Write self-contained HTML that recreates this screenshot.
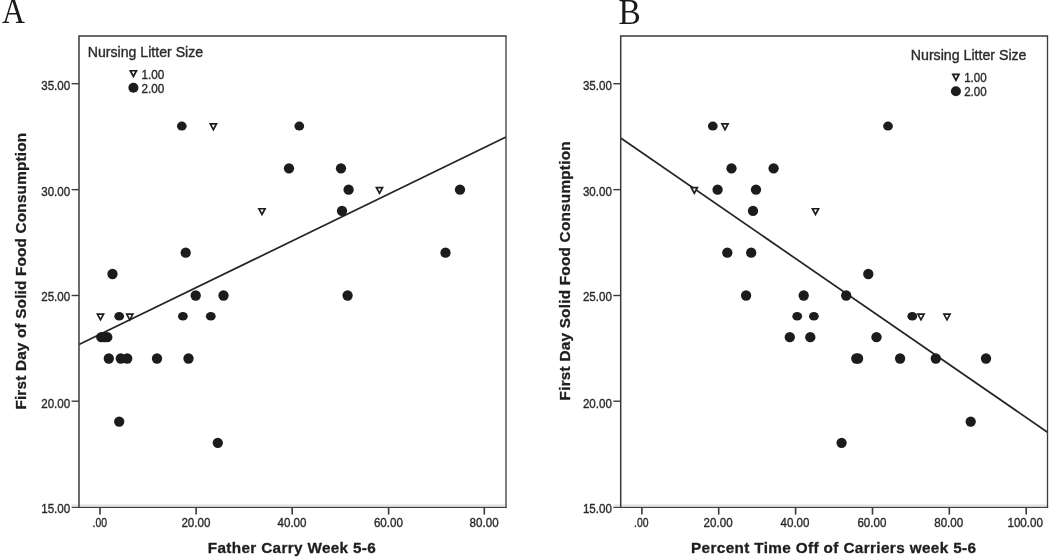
<!DOCTYPE html>
<html><head><meta charset="utf-8"><title>Figure</title>
<style>html,body{margin:0;padding:0;background:#fff;}body{width:1050px;height:558px;overflow:hidden;}svg{display:block;opacity:0.999;will-change:transform;}text{font-family:"Liberation Sans",sans-serif;}.r{stroke:#2a2a2a;stroke-width:0.35px;}.b{stroke:#1e1e1e;stroke-width:0.3px;}.s{font-family:"Liberation Serif",serif;}</style></head><body>
<svg width="1050" height="558" viewBox="0 0 1050 558">
<rect width="1050" height="558" fill="#fff"/>
<text class="s" transform="translate(2.0 23) scale(0.906 1)" font-size="35.0" fill="#1a1a1a">A</text>
<line x1="79.0" y1="344.6" x2="506.0" y2="137.0" stroke="#242424" stroke-width="1.7"/>
<ellipse cx="181.8" cy="126.1" rx="4.9" ry="4.5" fill="#1c1c1c"/>
<ellipse cx="299.3" cy="126.1" rx="4.9" ry="4.5" fill="#1c1c1c"/>
<circle cx="289" cy="168.3" r="5.15" fill="#1c1c1c"/>
<circle cx="341" cy="168.3" r="5.15" fill="#1c1c1c"/>
<circle cx="348.6" cy="189.7" r="5.15" fill="#1c1c1c"/>
<circle cx="460" cy="189.7" r="5.15" fill="#1c1c1c"/>
<circle cx="342" cy="210.9" r="5.15" fill="#1c1c1c"/>
<circle cx="185.7" cy="252.7" r="5.15" fill="#1c1c1c"/>
<circle cx="445.5" cy="252.7" r="5.15" fill="#1c1c1c"/>
<circle cx="112.5" cy="274.0" r="5.15" fill="#1c1c1c"/>
<circle cx="195.7" cy="295.5" r="5.15" fill="#1c1c1c"/>
<circle cx="223.5" cy="295.5" r="5.15" fill="#1c1c1c"/>
<circle cx="347.6" cy="295.5" r="5.15" fill="#1c1c1c"/>
<ellipse cx="119.2" cy="316.3" rx="4.9" ry="4.3" fill="#1c1c1c"/>
<ellipse cx="182.9" cy="316.3" rx="4.9" ry="4.3" fill="#1c1c1c"/>
<ellipse cx="210.8" cy="316.3" rx="4.9" ry="4.3" fill="#1c1c1c"/>
<circle cx="101.3" cy="337.2" r="5.15" fill="#1c1c1c"/>
<circle cx="104.3" cy="337.2" r="5.15" fill="#1c1c1c"/>
<circle cx="107.3" cy="337.2" r="5.15" fill="#1c1c1c"/>
<circle cx="108.8" cy="358.5" r="5.15" fill="#1c1c1c"/>
<circle cx="120.8" cy="358.5" r="5.15" fill="#1c1c1c"/>
<circle cx="127.2" cy="358.5" r="5.15" fill="#1c1c1c"/>
<circle cx="157" cy="358.5" r="5.15" fill="#1c1c1c"/>
<circle cx="188.5" cy="358.5" r="5.15" fill="#1c1c1c"/>
<circle cx="119.2" cy="421.6" r="5.15" fill="#1c1c1c"/>
<circle cx="217.8" cy="442.8" r="5.15" fill="#1c1c1c"/>
<path d="M210.33 123.95L216.47 123.95L213.40 129.62Z" fill="#fff" stroke="#1c1c1c" stroke-width="1.7" stroke-linejoin="miter"/>
<path d="M376.43 187.55L382.57 187.55L379.50 193.22Z" fill="#fff" stroke="#1c1c1c" stroke-width="1.7" stroke-linejoin="miter"/>
<path d="M258.93 208.75L265.07 208.75L262.00 214.42Z" fill="#fff" stroke="#1c1c1c" stroke-width="1.7" stroke-linejoin="miter"/>
<path d="M97.43 314.15L103.57 314.15L100.50 319.82Z" fill="#fff" stroke="#1c1c1c" stroke-width="1.7" stroke-linejoin="miter"/>
<path d="M126.73 314.15L132.87 314.15L129.80 319.82Z" fill="#fff" stroke="#1c1c1c" stroke-width="1.7" stroke-linejoin="miter"/>
<rect x="71.6" y="504" width="434.4" height="1" fill="#eeeeee"/><rect x="71.6" y="505" width="434.4" height="1" fill="#e3e3e3"/><rect x="71.6" y="506" width="434.4" height="1" fill="#cfcfcf"/>
<path d="M79.0 508.0L79.0 36.1L506.65 36.1" fill="none" stroke="#3a3a3a" stroke-width="1.5"/>
<line x1="506.0" y1="36.1" x2="506.0" y2="508.0" stroke="#3a3a3a" stroke-width="1.3"/>
<line x1="71.6" y1="507.5" x2="506.65" y2="507.5" stroke="#404040" stroke-width="1.15"/>
<line x1="71.6" y1="83.7" x2="79.0" y2="83.7" stroke="#3a3a3a" stroke-width="1.4"/>
<text class="r" x="70.2" y="90" font-size="12.5" text-anchor="end" textLength="29" lengthAdjust="spacingAndGlyphs" fill="#2a2a2a">35.00</text>
<line x1="71.6" y1="189.65" x2="79.0" y2="189.65" stroke="#3a3a3a" stroke-width="1.4"/>
<text class="r" x="70.2" y="196" font-size="12.5" text-anchor="end" textLength="29" lengthAdjust="spacingAndGlyphs" fill="#2a2a2a">30.00</text>
<line x1="71.6" y1="295.5" x2="79.0" y2="295.5" stroke="#3a3a3a" stroke-width="1.4"/>
<text class="r" x="70.2" y="301" font-size="12.5" text-anchor="end" textLength="29" lengthAdjust="spacingAndGlyphs" fill="#2a2a2a">25.00</text>
<line x1="71.6" y1="401.2" x2="79.0" y2="401.2" stroke="#3a3a3a" stroke-width="1.4"/>
<text class="r" x="70.2" y="408" font-size="12.5" text-anchor="end" textLength="29" lengthAdjust="spacingAndGlyphs" fill="#2a2a2a">20.00</text>
<text class="r" x="70.2" y="513" font-size="12.5" text-anchor="end" textLength="29" lengthAdjust="spacingAndGlyphs" fill="#2a2a2a">15.00</text>
<line x1="100" y1="507.5" x2="100" y2="514.6" stroke="#3a3a3a" stroke-width="1.6"/>
<text class="r" x="99.8" y="527" font-size="12.5" text-anchor="middle" textLength="14.5" lengthAdjust="spacingAndGlyphs" fill="#2a2a2a">.00</text>
<line x1="196.1" y1="507.5" x2="196.1" y2="514.6" stroke="#3a3a3a" stroke-width="1.6"/>
<text class="r" x="195.9" y="527" font-size="12.5" text-anchor="middle" textLength="29" lengthAdjust="spacingAndGlyphs" fill="#2a2a2a">20.00</text>
<line x1="292.2" y1="507.5" x2="292.2" y2="514.6" stroke="#3a3a3a" stroke-width="1.6"/>
<text class="r" x="292.0" y="527" font-size="12.5" text-anchor="middle" textLength="29" lengthAdjust="spacingAndGlyphs" fill="#2a2a2a">40.00</text>
<line x1="388.6" y1="507.5" x2="388.6" y2="514.6" stroke="#3a3a3a" stroke-width="1.6"/>
<text class="r" x="388.4" y="527" font-size="12.5" text-anchor="middle" textLength="29" lengthAdjust="spacingAndGlyphs" fill="#2a2a2a">60.00</text>
<line x1="484.3" y1="507.5" x2="484.3" y2="514.6" stroke="#3a3a3a" stroke-width="1.6"/>
<text class="r" x="484.1" y="527" font-size="12.5" text-anchor="middle" textLength="29" lengthAdjust="spacingAndGlyphs" fill="#2a2a2a">80.00</text>
<text class="b" x="207.8" y="553" font-size="15.3" font-weight="bold" textLength="168" lengthAdjust="spacing" fill="#1e1e1e">Father Carry Week 5-6</text>
<text class="b" transform="translate(25.9 409.6) rotate(-90)" font-size="15.3" font-weight="bold" textLength="276.7" lengthAdjust="spacing" fill="#1e1e1e">First Day of Solid Food Consumption</text>
<text class="r" x="87.8" y="57" font-size="14" textLength="115.3" lengthAdjust="spacingAndGlyphs" fill="#2a2a2a">Nursing Litter Size</text>
<path d="M130.33 70.75L136.47 70.75L133.40 76.42Z" fill="#fff" stroke="#1c1c1c" stroke-width="1.7" stroke-linejoin="miter"/>
<circle cx="133.4" cy="87.8" r="5" fill="#1c1c1c"/>
<text class="r" x="141.4" y="79" font-size="12.5" textLength="22.9" lengthAdjust="spacingAndGlyphs" fill="#2a2a2a">1.00</text>
<text class="r" x="141.4" y="93" font-size="12.5" textLength="22.9" lengthAdjust="spacingAndGlyphs" fill="#2a2a2a">2.00</text>
<text class="s" transform="translate(618.45 24) scale(0.943 1)" font-size="35.5" fill="#1a1a1a">B</text>
<line x1="620.7" y1="138.0" x2="1047.5" y2="432.2" stroke="#242424" stroke-width="1.7"/>
<ellipse cx="712.8" cy="126.1" rx="4.9" ry="4.5" fill="#1c1c1c"/>
<ellipse cx="888" cy="126.1" rx="4.9" ry="4.5" fill="#1c1c1c"/>
<circle cx="731.5" cy="168.3" r="5.15" fill="#1c1c1c"/>
<circle cx="773.6" cy="168.3" r="5.15" fill="#1c1c1c"/>
<circle cx="717.6" cy="189.7" r="5.15" fill="#1c1c1c"/>
<circle cx="756" cy="189.7" r="5.15" fill="#1c1c1c"/>
<circle cx="753" cy="210.9" r="5.15" fill="#1c1c1c"/>
<circle cx="727.3" cy="252.7" r="5.15" fill="#1c1c1c"/>
<circle cx="751.2" cy="252.7" r="5.15" fill="#1c1c1c"/>
<circle cx="868.3" cy="274.0" r="5.15" fill="#1c1c1c"/>
<circle cx="746.1" cy="295.5" r="5.15" fill="#1c1c1c"/>
<circle cx="803.7" cy="295.5" r="5.15" fill="#1c1c1c"/>
<circle cx="846.2" cy="295.5" r="5.15" fill="#1c1c1c"/>
<ellipse cx="797.2" cy="316.3" rx="4.9" ry="4.3" fill="#1c1c1c"/>
<ellipse cx="813.9" cy="316.3" rx="4.9" ry="4.3" fill="#1c1c1c"/>
<ellipse cx="912.3" cy="316.3" rx="4.9" ry="4.3" fill="#1c1c1c"/>
<circle cx="789.8" cy="337.2" r="5.15" fill="#1c1c1c"/>
<circle cx="810.3" cy="337.2" r="5.15" fill="#1c1c1c"/>
<circle cx="876.5" cy="337.2" r="5.15" fill="#1c1c1c"/>
<circle cx="856.3" cy="358.5" r="5.15" fill="#1c1c1c"/>
<circle cx="858.1" cy="358.5" r="5.15" fill="#1c1c1c"/>
<circle cx="900.1" cy="358.5" r="5.15" fill="#1c1c1c"/>
<circle cx="935.8" cy="358.5" r="5.15" fill="#1c1c1c"/>
<circle cx="986" cy="358.5" r="5.15" fill="#1c1c1c"/>
<circle cx="970.7" cy="421.6" r="5.15" fill="#1c1c1c"/>
<circle cx="841.6" cy="442.8" r="5.15" fill="#1c1c1c"/>
<path d="M721.93 123.95L728.07 123.95L725.00 129.62Z" fill="#fff" stroke="#1c1c1c" stroke-width="1.7" stroke-linejoin="miter"/>
<path d="M691.23 187.55L697.37 187.55L694.30 193.22Z" fill="#fff" stroke="#1c1c1c" stroke-width="1.7" stroke-linejoin="miter"/>
<path d="M812.43 208.75L818.57 208.75L815.50 214.42Z" fill="#fff" stroke="#1c1c1c" stroke-width="1.7" stroke-linejoin="miter"/>
<path d="M917.93 314.15L924.07 314.15L921.00 319.82Z" fill="#fff" stroke="#1c1c1c" stroke-width="1.7" stroke-linejoin="miter"/>
<path d="M943.93 314.15L950.07 314.15L947.00 319.82Z" fill="#fff" stroke="#1c1c1c" stroke-width="1.7" stroke-linejoin="miter"/>
<rect x="613.3" y="504" width="434.2" height="1" fill="#eeeeee"/><rect x="613.3" y="505" width="434.2" height="1" fill="#e3e3e3"/><rect x="613.3" y="506" width="434.2" height="1" fill="#cfcfcf"/>
<path d="M620.7 508.0L620.7 36.1L1048.15 36.1" fill="none" stroke="#3a3a3a" stroke-width="1.5"/>
<line x1="1047.5" y1="36.1" x2="1047.5" y2="508.0" stroke="#3a3a3a" stroke-width="1.3"/>
<line x1="613.3" y1="507.5" x2="1048.15" y2="507.5" stroke="#404040" stroke-width="1.15"/>
<line x1="613.3" y1="83.7" x2="620.7" y2="83.7" stroke="#3a3a3a" stroke-width="1.4"/>
<text class="r" x="611.9" y="90" font-size="12.5" text-anchor="end" textLength="29" lengthAdjust="spacingAndGlyphs" fill="#2a2a2a">35.00</text>
<line x1="613.3" y1="189.65" x2="620.7" y2="189.65" stroke="#3a3a3a" stroke-width="1.4"/>
<text class="r" x="611.9" y="196" font-size="12.5" text-anchor="end" textLength="29" lengthAdjust="spacingAndGlyphs" fill="#2a2a2a">30.00</text>
<line x1="613.3" y1="295.5" x2="620.7" y2="295.5" stroke="#3a3a3a" stroke-width="1.4"/>
<text class="r" x="611.9" y="301" font-size="12.5" text-anchor="end" textLength="29" lengthAdjust="spacingAndGlyphs" fill="#2a2a2a">25.00</text>
<line x1="613.3" y1="401.2" x2="620.7" y2="401.2" stroke="#3a3a3a" stroke-width="1.4"/>
<text class="r" x="611.9" y="408" font-size="12.5" text-anchor="end" textLength="29" lengthAdjust="spacingAndGlyphs" fill="#2a2a2a">20.00</text>
<text class="r" x="611.9" y="513" font-size="12.5" text-anchor="end" textLength="29" lengthAdjust="spacingAndGlyphs" fill="#2a2a2a">15.00</text>
<line x1="641.9" y1="507.5" x2="641.9" y2="514.6" stroke="#3a3a3a" stroke-width="1.6"/>
<text class="r" x="641.3" y="527" font-size="12.5" text-anchor="middle" textLength="14.5" lengthAdjust="spacingAndGlyphs" fill="#2a2a2a">.00</text>
<line x1="718.7" y1="507.5" x2="718.7" y2="514.6" stroke="#3a3a3a" stroke-width="1.6"/>
<text class="r" x="718.1" y="527" font-size="12.5" text-anchor="middle" textLength="29" lengthAdjust="spacingAndGlyphs" fill="#2a2a2a">20.00</text>
<line x1="795.6" y1="507.5" x2="795.6" y2="514.6" stroke="#3a3a3a" stroke-width="1.6"/>
<text class="r" x="795.0" y="527" font-size="12.5" text-anchor="middle" textLength="29" lengthAdjust="spacingAndGlyphs" fill="#2a2a2a">40.00</text>
<line x1="872.5" y1="507.5" x2="872.5" y2="514.6" stroke="#3a3a3a" stroke-width="1.6"/>
<text class="r" x="871.9" y="527" font-size="12.5" text-anchor="middle" textLength="29" lengthAdjust="spacingAndGlyphs" fill="#2a2a2a">60.00</text>
<line x1="949.3" y1="507.5" x2="949.3" y2="514.6" stroke="#3a3a3a" stroke-width="1.6"/>
<text class="r" x="948.7" y="527" font-size="12.5" text-anchor="middle" textLength="29" lengthAdjust="spacingAndGlyphs" fill="#2a2a2a">80.00</text>
<line x1="1026.2" y1="507.5" x2="1026.2" y2="514.6" stroke="#3a3a3a" stroke-width="1.6"/>
<text class="r" x="1025.2" y="527" font-size="12.5" text-anchor="middle" textLength="35.5" lengthAdjust="spacingAndGlyphs" fill="#2a2a2a">100.00</text>
<text class="b" x="691" y="553" font-size="15.3" font-weight="bold" textLength="285" lengthAdjust="spacing" fill="#1e1e1e">Percent Time Off of Carriers week 5-6</text>
<text class="b" transform="translate(569.9 400.4) rotate(-90)" font-size="15.3" font-weight="bold" textLength="259" lengthAdjust="spacing" fill="#1e1e1e">First Day Solid Food Consumption</text>
<text class="r" x="910.8" y="60" font-size="14" textLength="115.7" lengthAdjust="spacingAndGlyphs" fill="#2a2a2a">Nursing Litter Size</text>
<path d="M952.83 74.45L958.97 74.45L955.90 80.12Z" fill="#fff" stroke="#1c1c1c" stroke-width="1.7" stroke-linejoin="miter"/>
<circle cx="955.9" cy="91.2" r="5" fill="#1c1c1c"/>
<text class="r" x="964.2" y="82" font-size="12.5" textLength="22.5" lengthAdjust="spacingAndGlyphs" fill="#2a2a2a">1.00</text>
<text class="r" x="964.2" y="96" font-size="12.5" textLength="22.5" lengthAdjust="spacingAndGlyphs" fill="#2a2a2a">2.00</text>
</svg></body></html>
